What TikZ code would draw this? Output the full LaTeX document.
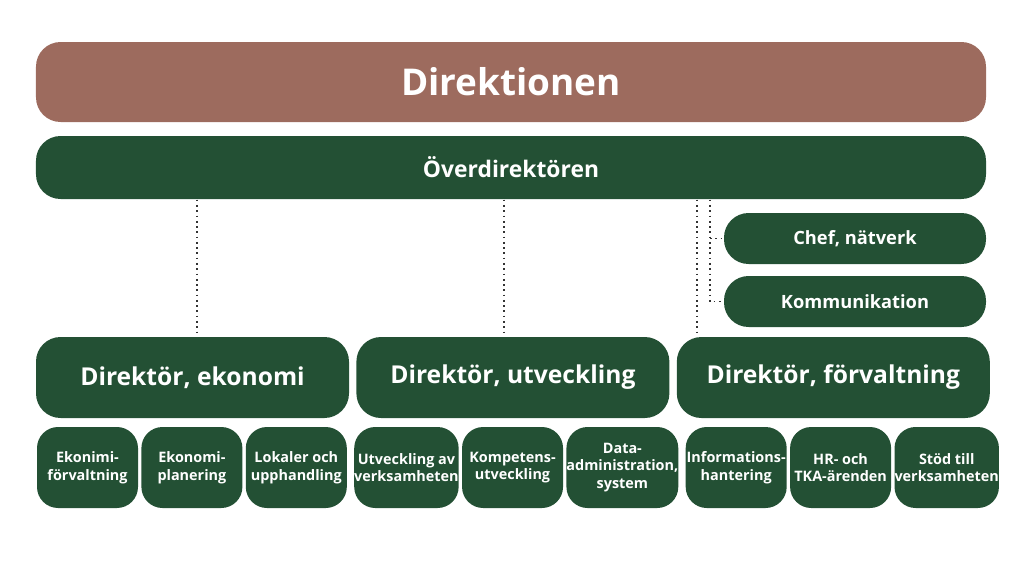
\documentclass[tikz,border=0pt]{standalone}
\usepackage{fontspec}
\setmainfont{Open Sans}
\usetikzlibrary{positioning}
\definecolor{orgbrown}{RGB}{157,107,94}
\definecolor{orggreen}{RGB}{35,80,52}
\tikzset{
  unit/.style={rectangle, rounded corners=7pt, fill=orggreen, text=white,
    font=\bfseries, align=center, inner sep=0pt},
  sub/.style={unit, rounded corners=6pt, minimum width=1.01cm, minimum height=0.81cm,
    font=\bfseries\fontsize{4.1}{5}\selectfont},
  dir/.style={unit, minimum width=3.13cm, minimum height=0.81cm,
    font=\bfseries\fontsize{7}{8}\selectfont},
  link/.style={densely dotted, line width=0.5pt, draw=black!80},
}
\begin{document}
\begin{tikzpicture}
\useasboundingbox (0,0) rectangle (10.24,5.76);
% --- Top ---
\node[unit, fill=orgbrown, minimum width=9.5cm, minimum height=0.8cm,
  font=\bfseries\fontsize{10.5}{12}\selectfont] (board) at (5.11,4.94) {Direktionen};
\node[unit, minimum width=9.5cm, minimum height=0.63cm,
  font=\bfseries\fontsize{6.5}{8}\selectfont] (chief) at (5.11,4.085) {Överdirektören};
\node[unit, minimum width=2.62cm, minimum height=0.51cm,
  font=\bfseries\fontsize{5.2}{6}\selectfont] (net) at (8.55,3.375) {Chef, nätverk};
\node[unit, minimum width=2.62cm, minimum height=0.51cm,
  font=\bfseries\fontsize{5.2}{6}\selectfont] (comm) at (8.55,2.745) {Kommunikation};
% --- Directors ---
\node[dir] (eco) at (1.925,1.985) {Direktör, ekonomi};
\node[dir, right=0.06cm of eco] (dev) {Direktör, utveckling};
\node[dir, right=0.06cm of dev] (adm) {Direktör, förvaltning};
% --- Units ---
\node[sub] (e1) at (0.875,1.085) {Ekonimi-\\förvaltning};
\node[sub, right=0.02cm of e1] (e2) {Ekonomi-\\planering};
\node[sub, right=0.02cm of e2] (e3) {Lokaler och\\upphandling};
\node[sub, right=0.06cm of e3] (u1) {Utveckling av\\verksamheten};
\node[sub, right=0.02cm of u1] (u2) {Kompetens-\\utveckling};
\node[sub, right=0.02cm of u2] (u3) {Data-\\administration,\\system};
\node[sub, right=0.06cm of u3] (f1) {Informations-\\hantering};
\node[sub, right=0.02cm of f1] (f2) {HR- och\\TKA-ärenden};
\node[sub, right=0.02cm of f2] (f3) {Stöd till\\verksamheten};
% --- Links ---
\draw[link] (chief.south -| 1.97,0) -- (eco.north -| 1.97,0);
\draw[link] (chief.south -| 5.04,0) -- (dev.north -| 5.04,0);
\draw[link] (chief.south -| 6.97,0) -- (adm.north -| 6.97,0);
\draw[link] (chief.south -| 7.10,0) |- (comm.west);
\draw[link] (net.west -| 7.10,0) -- (net.west);
\end{tikzpicture}
\end{document}
